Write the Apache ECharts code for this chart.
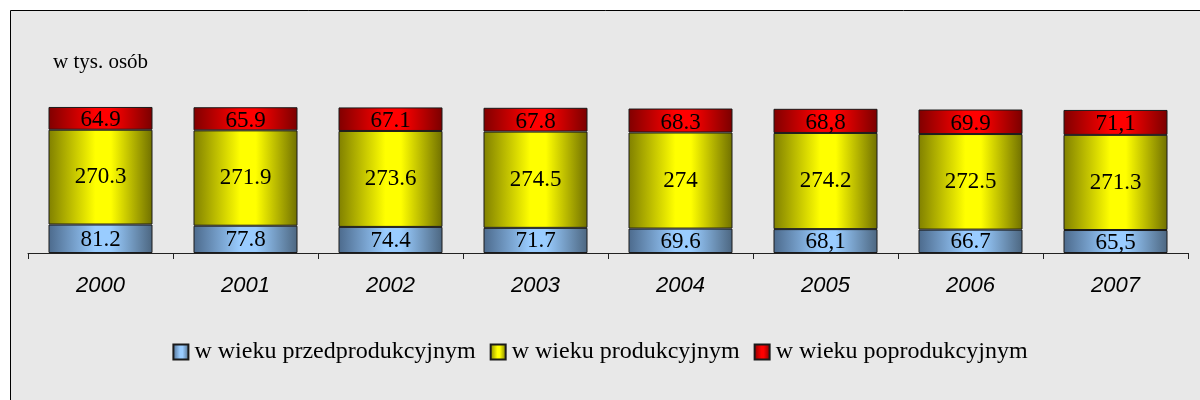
<!DOCTYPE html>
<html>
<head>
<meta charset="utf-8">
<script src="https://cdn.jsdelivr.net/npm/echarts@6/dist/echarts.min.js"></script>
<style>
  html, body { margin: 0; padding: 0; background: #fff; }
  #chart { width: 1200px; height: 400px; }
</style>
</head>
<body>
<div id="chart"></div>
<script>
// lata
const years = ['2000', '2001', '2002', '2003', '2004', '2005', '2006', '2007'];
// ludność w tys. osób
const przedprod = [81.2, 77.8, 74.4, 71.7, 69.6, 68.1, 66.7, 65.5];
const prod = [270.3, 271.9, 273.6, 274.5, 274, 274.2, 272.5, 271.3];
const poprod = [64.9, 65.9, 67.1, 67.8, 68.3, 68.8, 69.9, 71.1];
// etykiety tak jak na oryginale (czasem z przecinkiem)
const przedprodLabels = ['81.2', '77.8', '74.4', '71.7', '69.6', '68,1', '66.7', '65,5'];
const prodLabels = ['270.3', '271.9', '273.6', '274.5', '274', '274.2', '272.5', '271.3'];
const poprodLabels = ['64.9', '65.9', '67.1', '67.8', '68.3', '68,8', '69.9', '71,1'];

const serif = '"Liberation Serif", "Times New Roman", serif';

function grad(dark, light, dark2) {
    return new echarts.graphic.LinearGradient(0, 0, 1, 0, [
        { offset: 0, color: dark },
        { offset: 0.45, color: light },
        { offset: 0.6, color: light },
        { offset: 1, color: dark2 }
    ]);
}

function makeSeries(name, data, labels, color, offY) {
    return {
        name: name,
        type: 'bar',
        stack: 'all',
        barWidth: 104,
        data: data,
        itemStyle: { color: color, borderColor: '#1a1a1a', borderWidth: 1 },
        label: {
            show: true,
            position: 'inside',
            offset: [0, offY],
            color: '#000',
            fontFamily: serif,
            fontSize: 23,
            formatter: p => labels[p.dataIndex]
        }
    };
}

const chart = echarts.init(document.getElementById('chart'));
chart.setOption({
    animation: false,
    graphic: [
        {
            type: 'rect', z: -10, silent: true,
            shape: { x: 10.5, y: 10.5, width: 1300, height: 500 },
            style: { fill: '#e8e8e8', stroke: '#000', lineWidth: 1 }
        },
        {
            type: 'text', left: 53, top: 52,
            style: { text: 'w tys. osób', font: '21px ' + serif, fill: '#000' }
        }
    ],
    grid: { left: 28, right: 12, bottom: 147, top: 77.65 },
    legend: {
        bottom: 31,
        left: 'center',
        itemWidth: 15,
        itemHeight: 15,
        itemGap: 14,
        icon: 'rect',
        textStyle: { fontFamily: serif, fontSize: 24, color: '#000', padding: [0, 0, 0, 1] },
        data: ['w wieku przedprodukcyjnym', 'w wieku produkcyjnym', 'w wieku poprodukcyjnym']
    },
    xAxis: {
        type: 'category',
        data: years,
        axisLine: { lineStyle: { color: '#222', width: 1 } },
        axisTick: { show: true, length: 6, lineStyle: { color: '#222' } },
        axisLabel: {
            color: '#000',
            fontFamily: '"Liberation Sans", Arial, sans-serif',
            fontStyle: 'italic',
            fontSize: 22,
            margin: 22
        }
    },
    yAxis: { type: 'value', min: 0, max: 500, show: false },
    series: [
        makeSeries('w wieku przedprodukcyjnym', przedprod, przedprodLabels, grad('#4c6a8c', '#99ccff', '#4c6680'), 1),
        makeSeries('w wieku produkcyjnym', prod, prodLabels, grad('#808000', '#ffff00', '#707000'), 0),
        makeSeries('w wieku poprodukcyjnym', poprod, poprodLabels, grad('#800000', '#ff0000', '#7a0000'), 2)
    ]
});
</script>
</body>
</html>
